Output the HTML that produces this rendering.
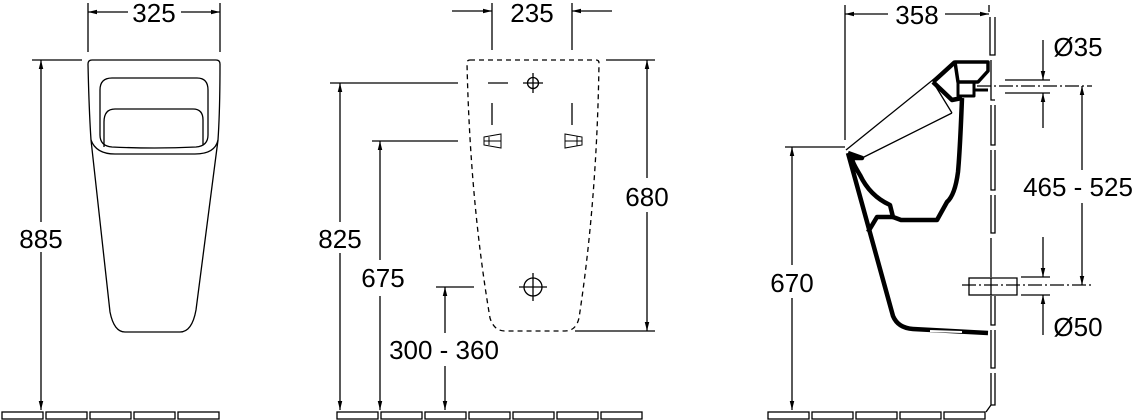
<!DOCTYPE html>
<html><head><meta charset="utf-8"><style>
html,body{margin:0;padding:0;background:#fff}
svg{display:block}
text{font-family:"Liberation Sans",sans-serif;font-size:26px;fill:#000}
</style></head><body>
<svg width="1143" height="420" viewBox="0 0 1143 420" xmlns="http://www.w3.org/2000/svg">
<defs>
<marker id="a" viewBox="0 0 10 10" refX="10" refY="5" markerWidth="9" markerHeight="12" markerUnits="userSpaceOnUse" orient="auto-start-reverse"><path d="M0,2.5L10,5L0,7.5Z" fill="#000"/></marker>
</defs>
<g stroke="#000" stroke-width="1.3" fill="none">
<!-- floor tiles -->
<g id="t">
<rect x="2" y="412" width="41" height="7"/><rect x="46" y="412" width="41" height="7"/><rect x="90" y="412" width="41" height="7"/><rect x="134" y="412" width="41" height="7"/><rect x="178" y="412" width="41" height="7"/>
</g>
<rect x="337" y="412" width="41" height="7"/><rect x="381" y="412" width="41" height="7"/><rect x="425" y="412" width="41" height="7"/><rect x="469" y="412" width="41" height="7"/><rect x="513" y="412" width="41" height="7"/><rect x="557" y="412" width="41" height="7"/><rect x="601" y="412" width="41" height="7"/>
<rect x="768" y="412" width="41" height="7"/><rect x="812" y="412" width="41" height="7"/><rect x="856" y="412" width="41" height="7"/><rect x="900" y="412" width="41" height="7"/><rect x="944" y="412" width="41" height="7"/>

<!-- LEFT VIEW -->
<line x1="88" y1="3" x2="88" y2="52"/><line x1="220" y1="3" x2="220" y2="52"/>
<line x1="88" y1="12" x2="128" y2="12" marker-start="url(#a)"/><line x1="181" y1="12" x2="220" y2="12" marker-end="url(#a)"/>
<line x1="32" y1="60" x2="82" y2="60"/>
<line x1="41" y1="60" x2="41" y2="222" marker-start="url(#a)"/><line x1="41" y1="252" x2="41" y2="410" marker-end="url(#a)"/>
<path d="M92,60 H216 Q220,60 220,64 Q220,110 218,140 L196,310 Q192,332 180,332 H125 Q114,332 110,312 L91,140 Q89,110 88,64 Q88,60 92,60Z"/>
<path d="M91,140 Q96,154 115,154 H195 Q215,154 218,140"/>
<path d="M112,78 H197 Q208,78 208,90 V135 Q208,146 196,147 Q155,149 112,147 Q100,146 100,135 V90 Q100,78 112,78Z"/>
<path d="M104,147 V122 Q104,109 115,109 H193 Q203,109 203,120 V145"/>

<!-- MIDDLE VIEW -->
<line x1="492" y1="3" x2="492" y2="50"/><line x1="572" y1="3" x2="572" y2="50"/>
<line x1="452" y1="11" x2="492" y2="11" marker-end="url(#a)"/><line x1="612" y1="11" x2="572" y2="11" marker-end="url(#a)"/>
<path d="M470,60 H596 Q599,60 599,63 Q597,200 579,318 Q576,331 565,331 H505 Q494,331 490,318 Q470,200 467,63 Q467,60 470,60Z" stroke-dasharray="5,4"/>
<line x1="330" y1="83" x2="458" y2="83"/><line x1="488" y1="83" x2="508" y2="83"/>
<circle cx="533" cy="83" r="5.5"/><line x1="523" y1="83" x2="543" y2="83"/><line x1="533" y1="73" x2="533" y2="93"/>
<circle cx="533" cy="287" r="9"/><line x1="519" y1="287" x2="547" y2="287"/><line x1="533" y1="273" x2="533" y2="301"/>
<line x1="492" y1="103" x2="492" y2="125"/><line x1="572" y1="103" x2="572" y2="125"/>
<path d="M484,137 L501,134 V148 L484,145Z M489,137 V145 M484,141 H501" stroke-width="1"/>
<path d="M565,134 L582,137 V145 L565,148Z M577,136 V146 M565,141 H582" stroke-width="1"/>
<line x1="340" y1="83" x2="340" y2="222" marker-start="url(#a)"/><line x1="340" y1="253" x2="340" y2="410" marker-end="url(#a)"/>
<line x1="372" y1="141" x2="458" y2="141"/>
<line x1="380" y1="141" x2="380" y2="260" marker-start="url(#a)"/><line x1="380" y1="296" x2="380" y2="410" marker-end="url(#a)"/>
<line x1="436" y1="287" x2="474" y2="287"/>
<line x1="445" y1="287" x2="445" y2="333" marker-start="url(#a)"/><line x1="445" y1="366" x2="445" y2="410" marker-end="url(#a)"/>
<line x1="606" y1="60" x2="655" y2="60"/><line x1="575" y1="331" x2="655" y2="331"/>
<line x1="647" y1="60" x2="647" y2="178" marker-start="url(#a)"/><line x1="647" y1="212" x2="647" y2="331" marker-end="url(#a)"/>

<!-- RIGHT VIEW -->
<line x1="845" y1="5" x2="845" y2="140"/><line x1="989" y1="5" x2="989" y2="12"/>
<line x1="845" y1="14" x2="888" y2="14" marker-start="url(#a)"/><line x1="945" y1="14" x2="989" y2="14" marker-end="url(#a)"/>
<!-- wall segments -->
<path d="M990,17 V55 H995 V17 M991,60 V100 H995 M991,105 V145 H995 V105 M991,150 V190 H995 V150 M991,195 V233 H995 V195 M991,238 V277 M991,296 V325 H995 V296 M991,330 V368 H995 V330 M991,373 V405 H995 V373 M991,405 L986,412"/>
<line x1="785" y1="147" x2="845" y2="147"/>
<line x1="792" y1="147" x2="792" y2="265" marker-start="url(#a)"/><line x1="792" y1="298" x2="792" y2="410" marker-end="url(#a)"/>
<!-- Ø35 -->
<line x1="1005" y1="80" x2="1050" y2="80"/><line x1="1005" y1="93" x2="1050" y2="93"/>
<line x1="1043" y1="40" x2="1043" y2="80" marker-end="url(#a)"/><line x1="1043" y1="128" x2="1043" y2="93" marker-end="url(#a)"/>
<line x1="977" y1="86" x2="1092" y2="86" stroke-dasharray="14,3,2,3"/>
<!-- 465-525 -->
<line x1="1082" y1="86" x2="1082" y2="170" marker-start="url(#a)"/><line x1="1082" y1="203" x2="1082" y2="285" marker-end="url(#a)"/>
<!-- Ø50 -->
<line x1="1021" y1="277" x2="1050" y2="277"/><line x1="1021" y1="295" x2="1050" y2="295"/>
<line x1="1043" y1="237" x2="1043" y2="277" marker-end="url(#a)"/><line x1="1043" y1="335" x2="1043" y2="295" marker-end="url(#a)"/>
<line x1="962" y1="285" x2="1092" y2="285" stroke-dasharray="14,3,2,3"/>
<rect x="969" y="278" width="22" height="17"/><path d="M991,278 H1017 V295 H991"/>
<!-- urinal profile -->
<path d="M955,62 L846,150"/>
<path d="M862,158 L952,113 M933,82 L952,113"/>
<g stroke-width="4.5" stroke-linejoin="round">
<path d="M955,62 H988 V71 L978,82 H958 Z" stroke-width="3.5"/>
<path d="M958,82 V96 H974 V82 M974,90 H988" stroke-width="3"/>
<path d="M962,98 Q960,150 958,172 Q955,195 947,202 L937,220 H901 L893,217 L890,205 Q870,196 860,175 Q852,162 852,158 L862,158 L848,153"/>
<path d="M848,153 L893,316 Q898,328 913,329 L988,333"/>
<path d="M893,217 H877 L868,232"/>
<path d="M933,82 L955,62 M933,82 L952,100 L962,98"/>
</g>
<line x1="930" y1="331" x2="962" y2="332" stroke="#fff" stroke-width="2"/>
</g>
<text x="154" y="22" text-anchor="middle">325</text>
<text x="41" y="248" text-anchor="middle">885</text>
<text x="532" y="22" text-anchor="middle">235</text>
<text x="340" y="248" text-anchor="middle">825</text>
<text x="383" y="287" text-anchor="middle">675</text>
<text x="444" y="359" text-anchor="middle">300 - 360</text>
<text x="647" y="206" text-anchor="middle">680</text>
<text x="917" y="24" text-anchor="middle">358</text>
<text x="792" y="292" text-anchor="middle">670</text>
<text x="1078" y="56" text-anchor="middle">Ø35</text>
<text x="1078" y="196" text-anchor="middle">465 - 525</text>
<text x="1078" y="336" text-anchor="middle">Ø50</text>
</svg>
</body></html>
